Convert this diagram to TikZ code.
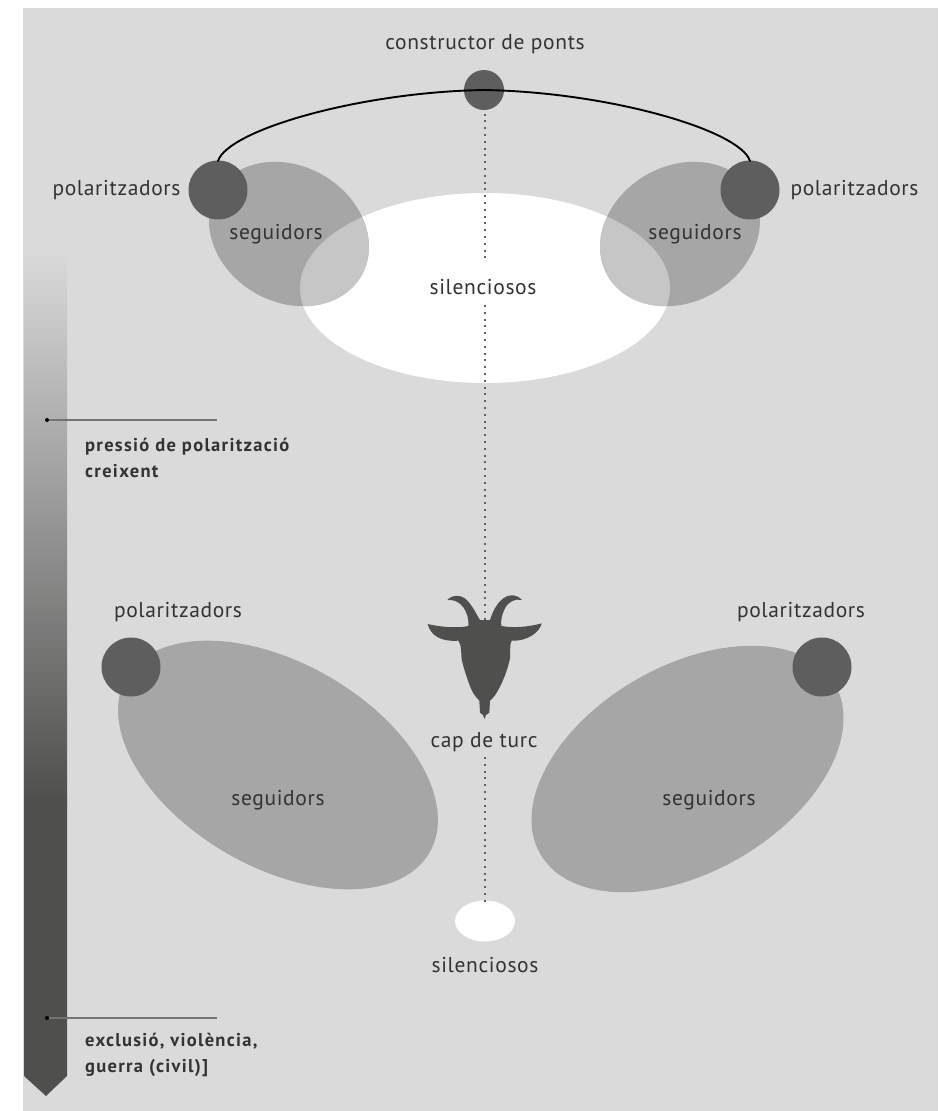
\documentclass[tikz,border=0pt]{standalone}
\usepackage{fontspec}
\setmainfont{PT Sans}[LetterSpace=3]
\definecolor{bgc}{HTML}{DADADA}
\definecolor{seg}{HTML}{A6A6A6}
\definecolor{ovl}{HTML}{C6C6C6}
\definecolor{pol}{HTML}{5E5E5E}
\definecolor{goatc}{HTML}{4F4F4E}
\definecolor{txt}{HTML}{333333}
\tikzset{x=1pt,y=-1pt,
 lab/.style={font=\fontsize{21.5}{24}\selectfont,text=txt,inner sep=0pt},
 small/.style={font=\fontsize{18.5}{25.5}\selectfont\addfontfeatures{LetterSpace=7}\bfseries,text=txt,inner sep=0pt,align=left,anchor=north west},
 polc/.style={circle,fill=pol,minimum size=59pt,inner sep=0pt},
 segell/.style={fill=seg},
 dots/.style={draw=black!62,line width=2pt,dash pattern=on 2pt off 4.8pt},
 tickline/.style={draw=black!55,line width=1.3pt},
 tickdot/.style={circle,fill=black,minimum size=4pt,inner sep=0pt}}
\begin{document}
\begin{tikzpicture}
\useasboundingbox (0,0) rectangle (938,1111);
\fill[white] (0,0) rectangle (938,1111);
\fill[bgc] (23,8) rectangle (938,1111);
% gradient bar
\shade[top color=bgc,bottom color=goatc] (24,250) rectangle (67,800);
\fill[goatc] (24,799) -- (67,799) -- (67,1076) -- (46,1096) -- (24,1076) -- cycle;
% top ellipses
\fill[white] (485,288) ellipse [x radius=185,y radius=95];
\fill[segell,rotate around={-30:(289,234)}] (289,234) ellipse [x radius=83.5,y radius=68];
\fill[segell,rotate around={30:(680,234)}] (680,234) ellipse [x radius=83.5,y radius=68];
\begin{scope}
 \clip (485,288) ellipse [x radius=185,y radius=95];
 \fill[ovl,rotate around={-30:(289,234)}] (289,234) ellipse [x radius=83.5,y radius=68];
 \fill[ovl,rotate around={30:(680,234)}] (680,234) ellipse [x radius=83.5,y radius=68];
\end{scope}
% bottom ellipses
\fill[segell,rotate around={-30:(278,765)}] (278,765) ellipse [x radius=175,y radius=102];
\fill[segell,rotate around={30:(687.5,769)}] (687.5,769) ellipse [x radius=170,y radius=103];
\fill[white] (485,921) ellipse [x radius=30,y radius=20.5];
% circles
\node[polc] (pl) at (218,190) {};
\node[polc] (pr) at (750,190) {};
\node[polc] (bl) at (131,667) {};
\node[polc] (br) at (822,667) {};
\node[circle,fill=pol,minimum size=40pt,inner sep=0pt] (top) at (484,90) {};
\coordinate (plt) at (218,161);
\coordinate (prt) at (750,161);
\coordinate (d1) at (484.5,100);
\coordinate (d2) at (484.5,258);
\coordinate (d3) at (484.5,305);
\coordinate (d4) at (484.5,620);
\coordinate (d5) at (484.5,757);
\coordinate (d6) at (484.5,902);
% arc
\draw[black,line width=1.9pt,line cap=round] (plt) .. controls (228,130) and (360,92) .. (top.center) .. controls (608,92) and (740,130) .. (prt);
\draw[dots] (d1) -- (d2);
\draw[dots] (d3) -- (d4);
\draw[dots] (d5) -- (d6);
% goat
\begin{scope}[shift={(400,570)},x=0.3333pt,y=-0.3333pt]
\fill[goatc] (142,90) .. controls (155,75) and (185,70) .. (205,95)
 .. controls (222,115) and (230,135) .. (240,150) -- (270,150)
 .. controls (278,125) and (290,100) .. (310,85)
 .. controls (330,70) and (355,75) .. (366,90)
 .. controls (345,85) and (325,95) .. (315,115)
 .. controls (305,135) and (302,150) .. (304,168)
 .. controls (340,175) and (390,170) .. (425,160)
 .. controls (420,185) and (385,214) .. (335,212)
 .. controls (328,222) and (332,250) .. (330,265)
 .. controls (325,290) and (315,320) .. (300,350)
 .. controls (290,370) and (280,385) .. (270,392)
 -- (268,428) -- (258,435) -- (254,447) -- (249,435) -- (240,428) -- (238,392)
 .. controls (225,380) and (215,365) .. (205,335)
 .. controls (195,305) and (190,290) .. (185,268)
 .. controls (183,245) and (185,225) .. (175,212)
 .. controls (125,216) and (92,198) .. (83,162)
 .. controls (115,170) and (170,176) .. (205,168)
 .. controls (208,150) and (200,125) .. (190,112)
 .. controls (178,95) and (160,88) .. (142,90) -- cycle;
\end{scope}
% tick lines
\node[tickdot] (t1) at (47,420) {};
\node[tickdot] (t2) at (47,1018) {};
\coordinate (t1e) at (217,420);
\coordinate (t2e) at (217,1018);
\draw[tickline] (t1) -- (t1e);
\draw[tickline] (t2) -- (t2e);
% labels
\node[lab] (l1) at (485,44) {constructor de ponts};
\node[lab] (l2) at (116.5,190) {polaritzadors};
\node[lab] (l3) at (854.5,190) {polaritzadors};
\node[lab] (l4) at (276,234) {seguidors};
\node[lab] (l5) at (695,234) {seguidors};
\node[lab] (l6) at (483,287) {silenciosos};
\node[lab] (l7) at (178,612) {polaritzadors};
\node[lab] (l8) at (801,612) {polaritzadors};
\node[lab] (l9) at (278,800) {seguidors};
\node[lab] (l10) at (709,800) {seguidors};
\node[lab] (l11) at (484,742) {cap de turc};
\node[lab] (l12) at (485,965) {silenciosos};
\node[small] (s1) at (85,438) {pressió de polarització\\creixent};
\node[small] (s2) at (85,1033) {exclusió, violència,\\guerra (civil)]};
\end{tikzpicture}
\end{document}
